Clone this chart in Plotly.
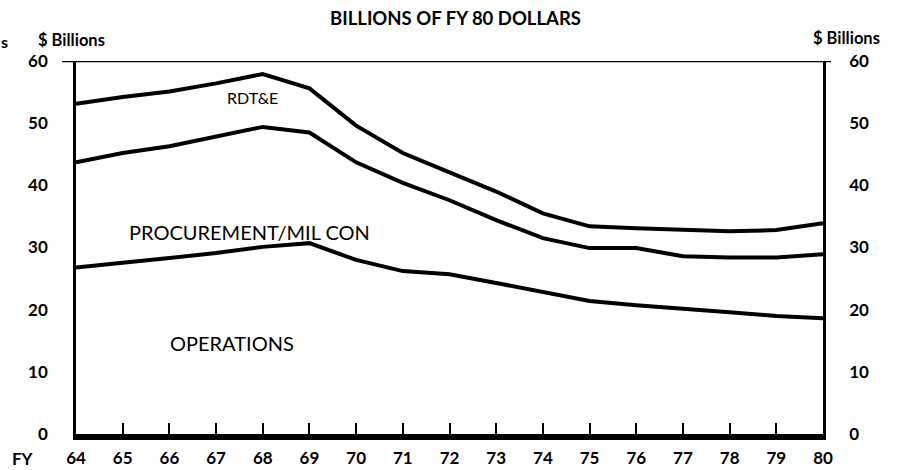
import plotly.graph_objects as go

# ---- data (billions of FY 80 dollars) ----
years = [64, 65, 66, 67, 68, 69, 70, 71, 72, 73, 74, 75, 76, 77, 78, 79, 80]
operations = [26.8, 27.5, 28.3, 29.1, 30.1, 30.7, 28.0, 26.2, 25.7, 24.3, 22.8, 21.4, 20.7, 20.2, 19.6, 19.0, 18.6]
procurement_milcon = [16.9, 17.7, 18.0, 18.7, 19.3, 17.8, 15.7, 14.2, 11.9, 10.1, 8.7, 8.5, 9.2, 8.4, 8.8, 9.4, 10.3]
rdte = [9.4, 9.0, 8.8, 8.6, 8.5, 7.1, 5.9, 4.8, 4.5, 4.6, 4.0, 3.5, 3.2, 4.2, 4.2, 4.4, 5.0]
y_ticks = [0, 10, 20, 30, 40, 50, 60]

FONT = "Lato"
W, H = 900, 470
L, R, T, B = 76, 823, 61, 434  # plot area in pixels


def xp(px):
    return (px - L) / (R - L)


def yp(py):
    return (B - py) / (B - T)


fig = go.Figure()
for name, vals in [("OPERATIONS", operations), ("PROCUREMENT/MIL CON", procurement_milcon), ("RDT&E", rdte)]:
    fig.add_trace(go.Scatter(
        x=years, y=vals, name=name, stackgroup="one", fill="none", mode="lines",
        line=dict(color="black", width=4), showlegend=False, hoverinfo="skip"))

# invisible trace so that the right-hand axis is drawn
fig.add_trace(go.Scatter(x=years, y=operations, yaxis="y2", mode="lines",
                         line=dict(width=0), opacity=0, showlegend=False, hoverinfo="skip"))

tickfont = dict(family=FONT, size=17, color="black", weight="bold")

fig.update_layout(
    width=W, height=H,
    margin=dict(l=L, r=W - R, t=T, b=H - B),
    paper_bgcolor="white", plot_bgcolor="white",
    xaxis=dict(range=[64, 80], tickvals=years, ticktext=[str(y) for y in years],
               showgrid=False, zeroline=False, showline=True, linecolor="black", linewidth=6,
               ticks="inside", ticklen=11, tickwidth=2, tickcolor="black",
               tickfont=tickfont, ticklabelstandoff=4, automargin=False),
    yaxis=dict(range=[0, 60], tickvals=y_ticks, showgrid=False, zeroline=False,
               showline=True, linecolor="black", linewidth=2.5, ticks="",
               tickfont=tickfont, ticklabelstandoff=22, automargin=False),
    yaxis2=dict(range=[0, 60], tickvals=y_ticks, overlaying="y", side="right",
                showgrid=False, zeroline=False, showline=True, linecolor="black",
                linewidth=2.5, ticks="", tickfont=tickfont, ticklabelstandoff=20,
                automargin=False),
)

# top frame line at 60 extending slightly beyond both axes
fig.add_shape(type="line", xref="paper", yref="y", x0=xp(62), x1=xp(831), y0=60, y1=60,
              line=dict(color="black", width=2.5))


def ann(text, px, py, size, bold=False, xanchor="center"):
    fig.add_annotation(text=text, xref="paper", yref="paper", x=xp(px), y=yp(py),
                       xanchor=xanchor, yanchor="middle", showarrow=False, borderpad=0,
                       font=dict(family=FONT, size=size, color="black",
                                 weight="bold" if bold else "normal"))


ann("BILLIONS OF FY 80 DOLLARS", 455, 18, 18.5, bold=True)
ann("$ Billions", 71, 40, 16.5, bold=True)
ann("$ Billions", 846, 38, 16.5, bold=True)
ann("s", 4, 42, 16, bold=True)
ann("RDT&E", 252, 98, 16)
ann("PROCUREMENT/MIL CON", 249, 232, 20)
ann("OPERATIONS", 232, 343, 20)
ann("FY", 23, 458, 17, bold=True)

fig.write_html("out.html", config={"displayModeBar": False},
               post_script="document.body.style.margin='0px';")
